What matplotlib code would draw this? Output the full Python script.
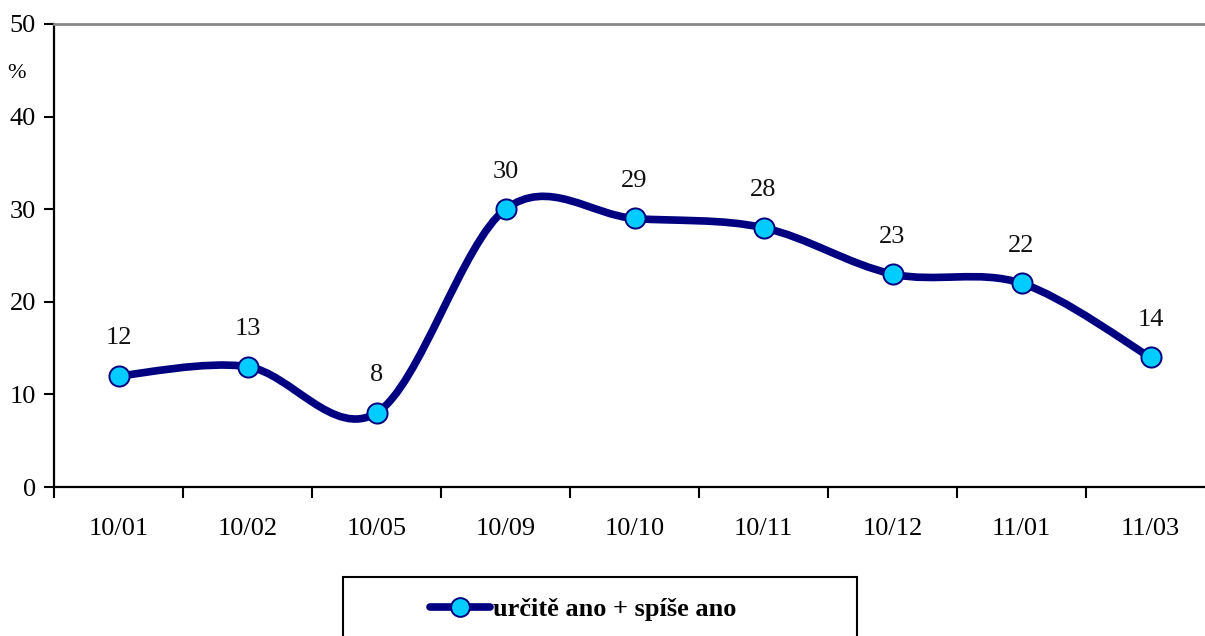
import matplotlib
matplotlib.use("Agg")
import matplotlib.pyplot as plt
from matplotlib.path import Path
from matplotlib.patches import PathPatch, Rectangle
from matplotlib.lines import Line2D

categories = ["10/01", "10/02", "10/05", "10/09", "10/10", "10/11", "10/12", "11/01", "11/03"]
values = [12, 13, 8, 30, 29, 28, 23, 22, 14]
series_name = "určitě ano + spíše ano"

LINE = "#000080"
FACE = "#00CCFF"
FONT = ["Liberation Serif", "DejaVu Serif"]
plt.rcParams["font.family"] = FONT
FS = 19

fig = plt.figure(figsize=(12.05, 6.36), dpi=100)
W, H = 1205, 636
ax = fig.add_axes([54 / W, 1 - 487 / H, 1161 / W, 463 / H])

xs = list(range(len(values)))
pts = list(zip(xs, values))

# Excel-style smoothed line (cubic Bezier through the data points)
verts = [pts[0]]
codes = [Path.MOVETO]
n = len(pts)
for i in range(n - 1):
    p0 = pts[i - 1] if i > 0 else pts[i]
    p1 = pts[i]
    p2 = pts[i + 1]
    p3 = pts[i + 2] if i + 2 < n else pts[i + 1]
    c1 = (p1[0] + (p2[0] - p0[0]) / 6, p1[1] + (p2[1] - p0[1]) / 6)
    c2 = (p2[0] - (p3[0] - p1[0]) / 6, p2[1] - (p3[1] - p1[1]) / 6)
    verts += [c1, c2, p2]
    codes += [Path.CURVE4] * 3
LW = 5.5
MS = 14.5
ax.add_patch(PathPatch(Path(verts, codes), facecolor="none", edgecolor=LINE,
                       lw=LW, capstyle="round", joinstyle="round", zorder=3))
ax.plot(xs, values, linestyle="none", marker="o", ms=MS, mfc=FACE, mec=LINE,
        mew=1.4, zorder=4)

for x, v in zip(xs, values):
    ax.annotate(str(v), (x, v), xytext=(0, 27), textcoords="offset points",
                ha="center", va="center", fontsize=FS, color="#111111")

ax.set_xlim(-0.5, len(values) - 0.5)
ax.set_ylim(0, 50)
ax.set_yticks(range(0, 51, 10))
ax.set_xticks(xs)
ax.set_xticklabels(categories)
ax.set_xticks([i - 0.5 for i in range(len(values) + 1)], minor=True)
ax.tick_params(axis="x", which="major", length=0, pad=22, labelsize=FS)
ax.tick_params(axis="x", which="minor", length=8, width=1.5, direction="out")
ax.tick_params(axis="y", length=7, width=1.5, direction="out", labelsize=FS, pad=6)

for s in ["left", "bottom"]:
    ax.spines[s].set_linewidth(1.6)
    ax.spines[s].set_color("black")
ax.spines["right"].set_visible(False)
ax.spines["top"].set_color("#888888")
ax.spines["top"].set_linewidth(2)

fig.text(17 / W, 1 - 73 / H, "%", fontsize=16, ha="center", va="center")

# Legend box
fig.add_artist(Rectangle((343 / W, 1 - 640 / H), (857 - 343) / W, (640 - 577) / H,
                         transform=fig.transFigure, facecolor="white",
                         edgecolor="black", lw=1.5, zorder=1))
handle = Line2D([], [], color=LINE, lw=LW, marker="o", ms=MS - 1, mfc=FACE,
                mec=LINE, mew=1.4, solid_capstyle="round")
leg = fig.legend([handle], [series_name], loc="center",
                 bbox_to_anchor=(583 / W, 1 - 609 / H), frameon=False,
                 handlelength=2.3, handletextpad=0.1,
                 prop={"family": FONT, "weight": "bold", "size": FS})
leg.set_zorder(2)

fig.savefig("out.png", dpi=100)
